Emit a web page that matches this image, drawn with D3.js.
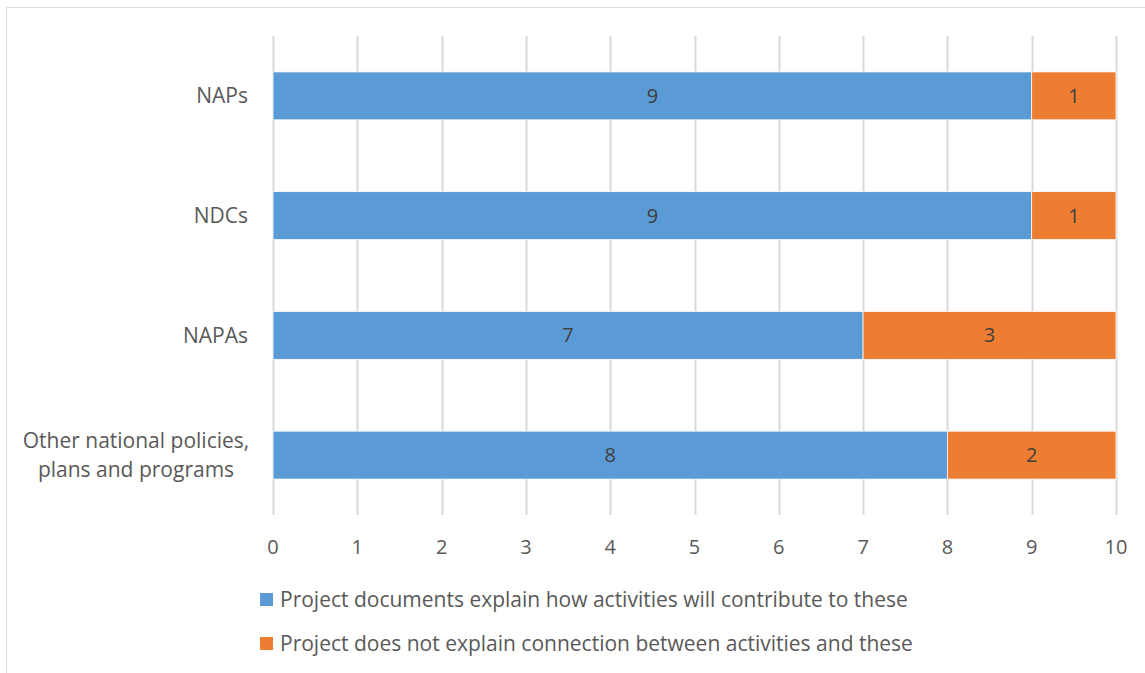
<!DOCTYPE html>
<html><head><meta charset="utf-8">
<script src="https://cdn.jsdelivr.net/npm/d3@7"></script>
<style>body{margin:0;background:#fff}svg{display:block}text{font-family:"Open Sans",sans-serif}</style>
</head><body><svg id="c" width="1145" height="673"></svg>
<script>
const categories = ["NAPs","NDCs","NAPAs","Other national policies, plans and programs"];
const categoryLines = [["NAPs"],["NDCs"],["NAPAs"],["Other national policies,","plans and programs"]];
const explained = [9,9,7,8];
const notExplained = [1,1,3,2];
const seriesNames = ["Project documents explain how activities will contribute to these","Project does not explain connection between activities and these"];
const colors = ["#5B9BD5","#ED7D31"];
const ticks = [0,1,2,3,4,5,6,7,8,9,10];

const svg = d3.select("#c");
svg.append("path").attr("d","M6.5,673V7.5H1145").attr("fill","none").attr("stroke","#D9D9D9").attr("stroke-width",1);

const x = d3.scaleLinear().domain([0,10]).range([273,1116]);
const y = d3.scaleBand().domain(categories).range([36,515]).paddingInner(0.6).paddingOuter(0.3);

const g = svg.append("g");
g.selectAll("line.grid").data(ticks).join("line")
  .attr("x1",d=>Math.round(x(d))+0.5).attr("x2",d=>Math.round(x(d))+0.5)
  .attr("y1",36).attr("y2",515).attr("stroke","#D9D9D9").attr("stroke-width",2);

const data = categories.map((c,i)=>({c, a:explained[i], b:notExplained[i]}));
const stack = d3.stack().keys(["a","b"])(data);
stack.forEach((s,si)=>{
  g.selectAll(null).data(s).join("rect")
    .attr("x",d=>x(d[0])).attr("width",d=>x(d[1])-x(d[0]))
    .attr("y",d=>y(d.data.c)).attr("height",y.bandwidth())
    .attr("fill",colors[si]).attr("stroke","#fff").attr("stroke-width",0.75);
  g.selectAll(null).data(s).join("text")
    .attr("x",d=>(x(d[0])+x(d[1]))/2).attr("y",d=>y(d.data.c)+y.bandwidth()/2)
    .attr("text-anchor","middle").attr("dy","0.35em")
    .attr("font-size",20).attr("fill","#404040")
    .text(d=>d[1]-d[0]);
});

// category labels
categories.forEach((c,i)=>{
  const lines = categoryLines[i];
  const cy = y(c)+y.bandwidth()/2;
  const lh = 29;
  const multi = lines.length > 1;
  lines.forEach((l,j)=>{
    svg.append("text").attr("x",multi?136:248).attr("y",cy+(j-(lines.length-1)/2)*lh)
      .attr("dy","0.35em").attr("text-anchor",multi?"middle":"end").attr("font-size",21).attr("fill","#595959")
      .text(l);
  });
});

// x tick labels
svg.append("g").selectAll("text").data(ticks).join("text")
  .attr("x",d=>x(d)).attr("y",547).attr("dy","0.35em").attr("text-anchor","middle")
  .attr("font-size",20).attr("fill","#595959").text(d=>d);

// legend
const leg = svg.append("g");
seriesNames.forEach((s,i)=>{
  const ly = 600 + i*44;
  leg.append("rect").attr("x",260).attr("y",ly-7).attr("width",13).attr("height",13).attr("fill",colors[i]);
  leg.append("text").attr("x",280).attr("y",ly).attr("dy","0.35em").attr("font-size",21).attr("fill","#595959").text(s);
});
</script></body></html>
